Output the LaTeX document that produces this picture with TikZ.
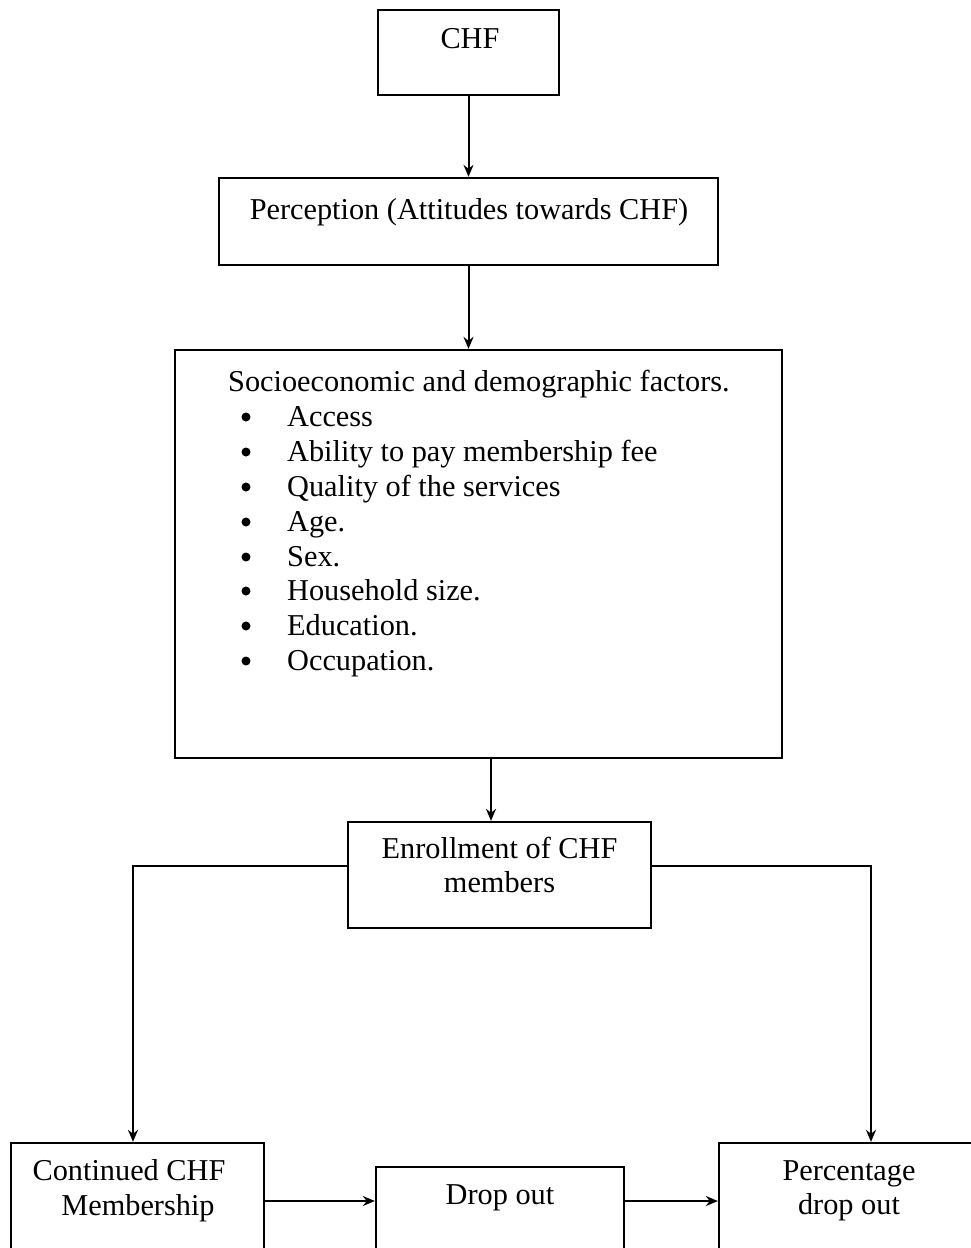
\documentclass[tikz,border=0pt]{standalone}
\usepackage{fontspec}
\setmainfont{Liberation Serif}
\usetikzlibrary{arrows.meta}
\begin{document}
\begin{tikzpicture}[x=1pt,y=-1pt,
  box/.style={draw, line width=2.3pt, inner sep=0pt},
  txt/.style={font=\fontsize{30.3}{35}\selectfont, anchor=base, inner sep=0pt},
  ltxt/.style={txt, anchor=base west},
  dot/.style={circle, fill, inner sep=0pt, minimum size=9pt},
  arr/.style={line width=2pt, -{Stealth[length=12pt,width=10pt]}},
  con/.style={line width=2pt}]
\useasboundingbox (0,0) rectangle (971,1248);
\clip (0,0) rectangle (971,1248);
% boxes
\node[box, minimum width=181pt, minimum height=85pt] (chf) at (468.5,52.5) {};
\node[box, minimum width=499pt, minimum height=87pt] (perc) at (468.5,221.5) {};
\node[box, minimum width=607pt, minimum height=408pt] (soc) at (478.5,554) {};
\node[box, minimum width=303pt, minimum height=106pt] (enr) at (499.5,875) {};
\node[box, minimum width=253pt, minimum height=117pt] (cont) at (137.5,1201.5) {};
\node[box, minimum width=248pt, minimum height=93pt] (drop) at (500,1213.5) {};
\node[box, minimum width=266pt, minimum height=117pt] (pct) at (852,1201.5) {};
% texts
\node[txt] (tchf) at (470,48) {CHF};
\node[txt] (tperc) at (469,219) {Perception (Attitudes towards CHF)};
\node[ltxt] (tsoc) at (228,391) {Socioeconomic and demographic factors.};
\foreach \y/\t [count=\i] in {426/Access, 461/Ability to pay membership fee, 496/Quality of the services, 531/Age., 566/Sex., 600/Household size., 635/Education., 670/Occupation.}{
  \node[dot] (b\i) at (246,\y-9) {};
  \node[ltxt] (it\i) at (287,\y) {\t};
}
\node[txt] (tenr1) at (499.5,858) {Enrollment of CHF};
\node[txt] (tenr2) at (499.5,892) {members};
\node[txt] (tcont1) at (129,1180) {Continued CHF};
\node[txt] (tcont2) at (138,1215) {Membership};
\node[txt] (tdrop) at (500,1204) {Drop out};
\node[txt] (tpct1) at (849,1180) {Percentage};
\node[txt] (tpct2) at (849,1214) {drop out};
% connectors
\coordinate (mid) at (0,1201);
\draw[arr] (chf.south) -- (perc.north);
\draw[arr] (perc.south) -- (perc.south |- soc.north);
\draw[arr] ([xshift=-8.5pt]enr.north |- soc.south) -- ([xshift=-8.5pt]enr.north);
\draw[arr] ([yshift=9pt]enr.west) -| ([xshift=-4.5pt]cont.north);
\draw[arr] ([yshift=9pt]enr.east) -| ([xshift=19pt]pct.north);
\draw[arr] (cont.east |- mid) -- (drop.west |- mid);
\draw[arr] (drop.east |- mid) -- (pct.west |- mid);
\end{tikzpicture}
\end{document}
